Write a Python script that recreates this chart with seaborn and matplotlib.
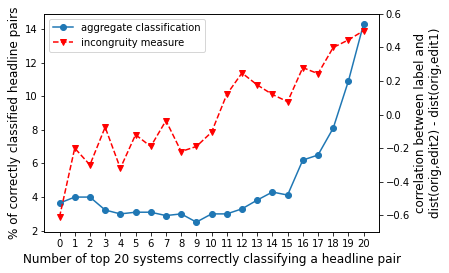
import matplotlib
matplotlib.use('Agg')
import matplotlib.pyplot as plt
import seaborn as sns
import numpy as np

systems = list(range(21))
aggregate = [3.64, 4.0, 4.0, 3.23, 3.0, 3.1, 3.1, 2.9, 3.0, 2.51, 3.0,
             3.0, 3.3, 3.82, 4.3, 4.12, 6.2, 6.5, 8.1, 10.9, 14.3]
incongruity = [-0.61, -0.20, -0.30, -0.075, -0.32, -0.12, -0.19, -0.036, -0.22, -0.19, -0.105,
               0.12, 0.248, 0.177, 0.12, 0.077, 0.28, 0.244, 0.40, 0.445, 0.50]

fig = plt.figure(figsize=(449 / 72, 273 / 72), dpi=72)
ax1 = fig.add_axes([0.0987, 0.150, 0.745, 0.799])

sns.lineplot(x=systems, y=aggregate, ax=ax1, color='#1f77b4', marker='o',
             markersize=6, markeredgecolor='#1f77b4', markeredgewidth=1,
             label='aggregate classification', legend=False)
ax1.set_xticks(systems)
ax1.set_xlim(-1, 21)
ax1.set_ylabel('% of correctly classified headline pairs', fontsize=12)
ax1.set_xlabel('Number of top 20 systems correctly classifying a headline pair', fontsize=12)
ax1.tick_params(labelsize=10)

ax2 = ax1.twinx()
sns.lineplot(x=systems, y=incongruity, ax=ax2, color='red', marker='v',
             linestyle='--', markersize=6, markeredgecolor='red', markeredgewidth=1,
             label='incongruity measure', legend=False)
ax2.set_ylim(-0.7, 0.6)
ax2.set_ylabel('correlation between label and\ndist(orig,edit2) - dist(orig,edit1)', fontsize=12)
ax2.tick_params(labelsize=10)

h1, l1 = ax1.get_legend_handles_labels()
h2, l2 = ax2.get_legend_handles_labels()
ax1.legend(h1 + h2, l1 + l2, loc='upper left', fontsize=10)

fig.savefig('out.png', dpi=72)
